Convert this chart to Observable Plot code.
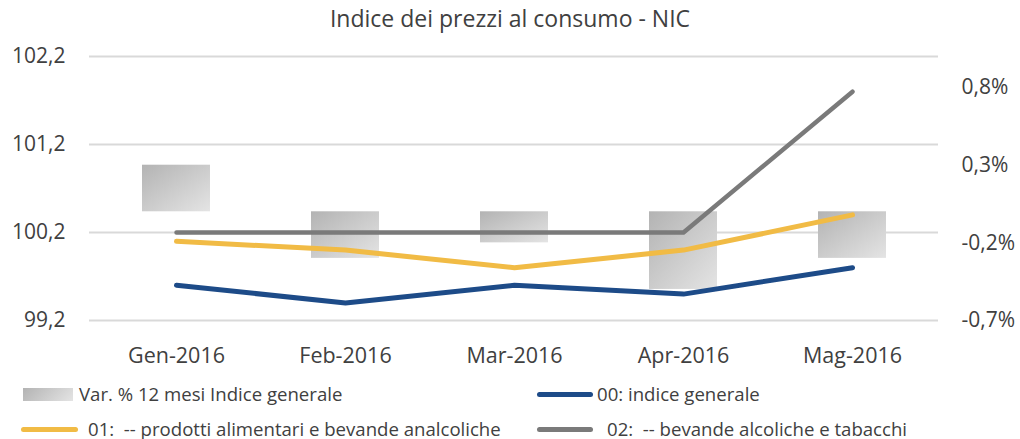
<!DOCTYPE html>
<html>
<head>
<meta charset="utf-8">
<script src="https://cdn.jsdelivr.net/npm/d3@7"></script>
<script src="https://cdn.jsdelivr.net/npm/@observablehq/plot@0.6"></script>
<style>
  html, body { margin: 0; padding: 0; background: #fff; }
  body { width: 1020px; height: 439px; overflow: hidden; font-family: "Open Sans", Lato, sans-serif; color: #404040; }
  #title { height: 40px; line-height: 36px; text-align: center; font-size: 23px; }
  #legend { position: relative; height: 69px; font-size: 18.6px; }
  .item { position: absolute; display: flex; align-items: center; white-space: pre; line-height: 1; }
  .sw { display: inline-block; }
</style>
</head>
<body>
<div id="title">Indice dei prezzi al consumo - NIC</div>
<div id="chart"></div>
<div id="legend"></div>
<script>
const months = ["Gen-2016", "Feb-2016", "Mar-2016", "Apr-2016", "Mag-2016"];
const varPct = [0.3, -0.3, -0.2, -0.5, -0.3];            // Var. % 12 mesi Indice generale (right axis)
const indiceGenerale = [99.6, 99.4, 99.6, 99.5, 99.8];    // 00: indice generale
const alimentari = [100.1, 100.0, 99.8, 100.0, 100.4];    // 01: prodotti alimentari e bevande analcoliche
const alcoliche = [100.2, 100.2, 100.2, 100.2, 101.8];    // 02: bevande alcoliche e tabacchi
const leftTicks = [99.2, 100.2, 101.2, 102.2];
const rightTicks = [-0.7, -0.2, 0.3, 0.8];
const leftDomain = [99.2, 102.2];
const rightDomain = [-0.7, 1.0];

const seriesNames = [
  "Var. % 12 mesi Indice generale",
  "00: indice generale",
  "01:  -- prodotti alimentari e bevande analcoliche",
  "02:  -- bevande alcoliche e tabacchi"
];
const colors = {blue: "#1d4b88", yellow: "#f1bb45", gray: "#7a7a7a", text: "#404040", grid: "#d9d9d9"};

// map right-axis (percent) values into left-axis units
const toLeft = p => leftDomain[0] + (p - rightDomain[0]) * (leftDomain[1] - leftDomain[0]) / (rightDomain[1] - rightDomain[0]);
const toRight = v => rightDomain[0] + (v - leftDomain[0]) * (rightDomain[1] - rightDomain[0]) / (leftDomain[1] - leftDomain[0]);
const fmt = (v, d) => v.toFixed(d).replace(".", ",");

const bars = months.map((m, i) => ({m, y1: toLeft(0), y2: toLeft(varPct[i])}));
const line = arr => months.map((m, i) => ({m, v: arr[i]}));

const plot = Plot.plot({
  width: 1020,
  height: 330,
  marginLeft: 89,
  marginRight: 82,
  marginTop: 16,
  marginBottom: 50,
  style: {fontFamily: "'Open Sans', Lato, sans-serif", color: colors.text, background: "#fff"},
  x: {domain: months, paddingInner: 0.6, paddingOuter: 0.3, label: null},
  y: {domain: leftDomain, label: null},
  marks: [
    Plot.gridY(leftTicks, {stroke: colors.grid, strokeOpacity: 1, strokeWidth: 2}),
    Plot.barY(bars, {x: "m", y1: "y1", y2: "y2", fill: "url(#barGrad)"}),
    Plot.line(line(indiceGenerale), {x: "m", y: "v", stroke: colors.blue, strokeWidth: 5, strokeLinecap: "round", strokeLinejoin: "round"}),
    Plot.line(line(alimentari), {x: "m", y: "v", stroke: colors.yellow, strokeWidth: 5, strokeLinecap: "round", strokeLinejoin: "round"}),
    Plot.line(line(alcoliche), {x: "m", y: "v", stroke: colors.gray, strokeWidth: 4.5, strokeLinecap: "round", strokeLinejoin: "round"}),
    Plot.axisY(leftTicks, {anchor: "left", tickSize: 0, tickPadding: 24, tickFormat: d => fmt(d, 1), fontSize: 21, label: null}),
    Plot.axisY(rightTicks.map(toLeft), {anchor: "right", tickSize: 0, tickPadding: 23, tickFormat: d => fmt(toRight(d), 1) + "%", fontSize: 21, textAnchor: "start", label: null}),
    Plot.axisX({tickSize: 0, tickPadding: 27, fontSize: 21.5, label: null})
  ]
});
plot.insertAdjacentHTML("afterbegin",
  `<defs><linearGradient id="barGrad" x1="0" y1="0" x2="1" y2="1">
     <stop offset="0" stop-color="#b3b3b3"/><stop offset="1" stop-color="#e4e4e4"/>
   </linearGradient></defs>`);
document.getElementById("chart").appendChild(plot);

// legend
const legend = document.getElementById("legend");
const items = [
  {x: 23, y: 24, sw: `<span class="sw" style="width:50px;height:13px;background:linear-gradient(135deg,#b3b3b3,#e4e4e4);margin-right:6px"></span>`, label: seriesNames[0]},
  {x: 537, y: 24, sw: `<span class="sw" style="width:56px;height:5px;border-radius:3px;background:${colors.blue};margin-right:4px"></span>`, label: seriesNames[1]},
  {x: 21, y: 59, sw: `<span class="sw" style="width:57px;height:5px;border-radius:3px;background:${colors.yellow};margin-right:10px"></span>`, label: seriesNames[2]},
  {x: 537, y: 59, sw: `<span class="sw" style="width:56px;height:5px;border-radius:3px;background:${colors.gray};margin-right:14px"></span>`, label: seriesNames[3]}
];
for (const it of items) {
  const d = document.createElement("div");
  d.className = "item";
  d.style.left = it.x + "px";
  d.style.top = (it.y - 10) + "px";
  d.style.height = "20px";
  d.innerHTML = it.sw + `<span>${it.label}</span>`;
  legend.appendChild(d);
}
</script>
</body>
</html>
